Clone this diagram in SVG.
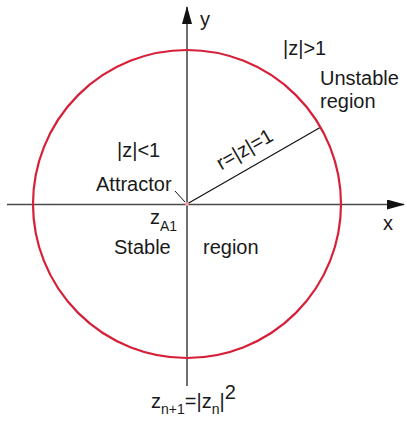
<svg xmlns="http://www.w3.org/2000/svg" width="407" height="424" viewBox="0 0 407 424">
<style>
text{font-family:"Liberation Sans",Arial,sans-serif;font-size:20px;fill:#1a1a1a}
.sub{font-size:14px}
.axis{stroke:#4a4a4a;stroke-width:1.6;fill:none}
</style>
<defs>
<marker id="arr" markerWidth="10" markerHeight="8" refX="9" refY="4" orient="auto" markerUnits="userSpaceOnUse" viewBox="0 0 10 8">
<path d="M0,0 L10,4 L0,8 Z" fill="#111"/>
</marker>
<marker id="arrL" viewBox="0 0 18 10" markerWidth="18" markerHeight="10" refX="17" refY="5" orient="auto" markerUnits="userSpaceOnUse">
<path d="M0,0 L18,5 L0,10 Z" fill="#111"/>
</marker>
</defs>
<rect width="407" height="424" fill="#fff"/>
<g id="connectors">
<line class="axis" x1="7" y1="204.5" x2="404" y2="204.5" marker-end="url(#arrL)"/>
<line class="axis" x1="187" y1="386" x2="187" y2="7" marker-end="url(#arrL)"/>
<line x1="187" y1="204" x2="321" y2="127" stroke="#111" stroke-width="1.2"/>
<line x1="175" y1="191" x2="185" y2="202" stroke="#111" stroke-width="1"/>
</g>
<g id="circle">
<circle cx="187" cy="204" r="154" fill="none" stroke="#d6203a" stroke-width="2.2"/>
</g>
<g id="attractor">
<circle cx="187" cy="204" r="2" fill="#f2a0a8"/>
<text x="96" y="191">Attractor</text>
<text x="150" y="224">z<tspan class="sub" dy="7">A1</tspan></text>
</g>
<g id="labels">
<text x="200" y="26">y</text>
<text x="383" y="230">x</text>
<text x="283" y="55">|z|&gt;1</text>
<text x="320" y="85">Unstable</text>
<text x="320" y="108">region</text>
<text x="117" y="157">|z|&lt;1</text>
<text x="114" y="254">Stable</text>
<text x="203" y="254">region</text>
<text transform="translate(248,155) rotate(-30)" text-anchor="middle">r=|z|=1</text>
<text x="151" y="408">z<tspan class="sub" dy="6">n+1</tspan><tspan dy="-6">=|z</tspan><tspan class="sub" dy="6">n</tspan><tspan dy="-6">|</tspan><tspan dy="-9">2</tspan></text>
</g>
</svg>
